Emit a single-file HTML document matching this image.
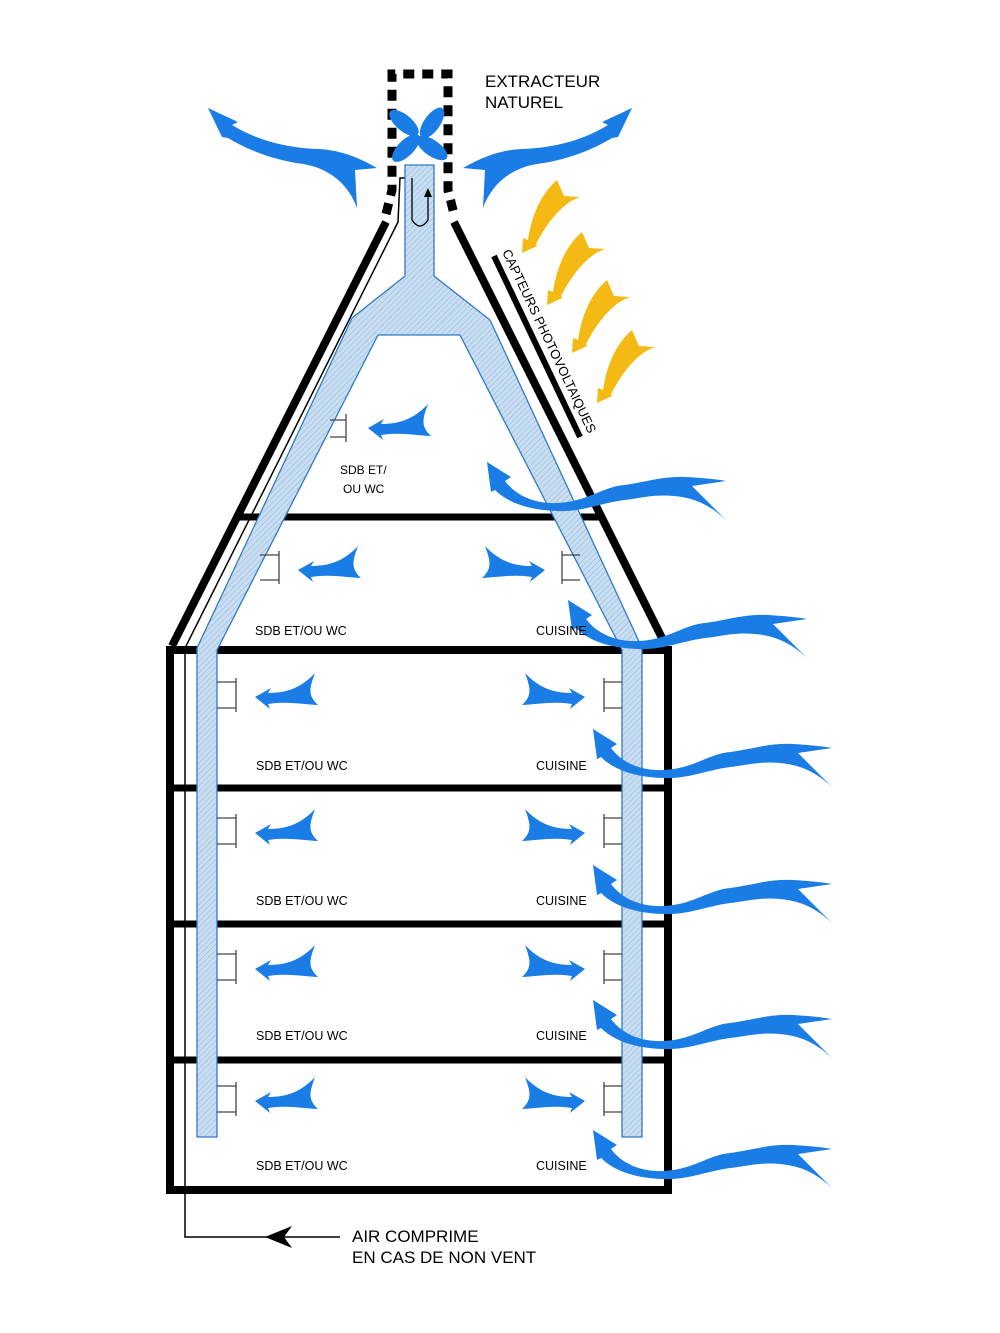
<!DOCTYPE html>
<html><head><meta charset="utf-8"><style>
html,body{margin:0;padding:0;background:#fff;}
svg{display:block;}
text{font-family:"Liberation Sans",Arial,sans-serif;fill:#000;}
</style></head><body>
<svg width="1000" height="1333" viewBox="0 0 1000 1333" xmlns="http://www.w3.org/2000/svg">
<defs>
<pattern id="h" width="4" height="4" patternUnits="userSpaceOnUse" patternTransform="rotate(45)">
<rect width="4" height="4" fill="#c9def2"/>
<line x1="0" y1="0" x2="0" y2="4" stroke="#8fb2d6" stroke-width="1"/>
</pattern>
<path id="wind" d="M0,0 L24,15 L18,19 C30,35 50,42 70,41 C100,40 115,25 137,23 C160,20 175,14 200,15 C215,16 228,17 239,19 L205,24 L239,58 C225,45 210,36 187,34 C165,32 150,37 137,38 C110,42 95,50 70,49 C40,48 20,40 8,28 L4,30 Z" fill="#1a7de6"/>
<path id="top" d="M0,0 L30,14 L24,17 C50,33 80,40 110,41 C135,42 155,52 169,60 L147,62 L149,100 C140,75 120,60 95,56 C65,52 40,42 20,30 L14,29 Z" fill="#1a7de6"/>
<path id="sm" d="M0,0 L16,-9 L13,-4 C30,-4 45,-8 60,-24 C55,-10 52,-2 63,8 C45,7 30,4 13,7 L15,12 Z" fill="#1a7de6"/>
<path id="sun" d="M0,0 L1,-15 L6,-13 C10,-40 20,-60 35,-73 L42,-57 L58,-56 C40,-50 25,-30 14,-9 L15,-7 Z" fill="#f5b914"/>
</defs>

<!-- building -->
<rect x="170" y="650" width="498" height="540" fill="none" stroke="#000" stroke-width="8"/>
<line x1="170" y1="788" x2="668" y2="788" stroke="#000" stroke-width="7"/>
<line x1="170" y1="924" x2="668" y2="924" stroke="#000" stroke-width="7"/>
<line x1="170" y1="1060" x2="668" y2="1060" stroke="#000" stroke-width="7"/>
<line x1="172" y1="646" x2="386" y2="222" stroke="#000" stroke-width="8"/>
<line x1="666" y1="646" x2="454" y2="222" stroke="#000" stroke-width="8"/>
<line x1="234" y1="517" x2="602" y2="517" stroke="#000" stroke-width="7"/>

<!-- thin air line -->
<polyline points="412,220 412,178 400,178 398,222 185,648 185,1237 340,1237" fill="none" stroke="#000" stroke-width="1.5"/>
<path d="M265,1237 L292,1226 L284,1237 L292,1248 Z" fill="#000"/>

<!-- chimney dashed -->
<path d="M386,214 L392,190 L392,74 L448,74 L448,190 L454,214" fill="none" stroke="#000" stroke-width="9" stroke-dasharray="11,8"/>

<!-- ducts -->
<path d="M197,1137 L197,648 L352,318 L405,276 L405,165 L434,165 L434,276 L490,320 L642,648 L642,1137 L622,1137 L622,650 L460,335 L378,335 L217,650 L217,1137 Z" fill="url(#h)" stroke="#2f7ac8" stroke-width="1.3"/>
<path d="M412,178 L412,220 Q420,232 428,220 L428,192" fill="none" stroke="#000" stroke-width="1.3"/>
<path d="M428,188 L424,197 L432,197 Z" fill="#000"/>

<!-- fan -->
<g fill="#1a7de6" transform="translate(418,135)">
<ellipse cx="-14" cy="-12" rx="18" ry="8" transform="rotate(40 -14 -12)"/>
<ellipse cx="14" cy="-12" rx="18" ry="8" transform="rotate(-55 14 -12)"/>
<ellipse cx="-12" cy="13" rx="18" ry="8" transform="rotate(-45 -12 13)"/>
<ellipse cx="14" cy="13" rx="18" ry="8" transform="rotate(35 14 13)"/>
</g>

<!-- vents -->
<g stroke="#444" stroke-width="1.3" fill="none">
<path d="M217,682 H236 M217,708 H236 M236,678 V712"/>
<path d="M217,818 H236 M217,844 H236 M236,814 V848"/>
<path d="M217,954 H236 M217,980 H236 M236,950 V984"/>
<path d="M217,1086 H236 M217,1112 H236 M236,1082 V1116"/>
<path d="M622,682 H604 M622,708 H604 M604,678 V712"/>
<path d="M622,818 H604 M622,844 H604 M604,814 V848"/>
<path d="M622,954 H604 M622,980 H604 M604,950 V984"/>
<path d="M622,1086 H604 M622,1112 H604 M604,1082 V1116"/>
<path d="M260,555 H279 M260,580 H279 M279,551 V584"/>
<path d="M580,555 H562 M580,580 H562 M562,551 V584"/>
<path d="M330,420 H346 M330,437 H346 M346,414 V442"/>
</g>

<!-- small arrows -->
<use href="#sm" transform="translate(255,697)"/>
<use href="#sm" transform="translate(255,833)"/>
<use href="#sm" transform="translate(255,969)"/>
<use href="#sm" transform="translate(255,1101)"/>
<use href="#sm" transform="translate(298,570)"/>
<use href="#sm" transform="translate(368,428)"/>
<use href="#sm" transform="translate(585,697) scale(-1,1)"/>
<use href="#sm" transform="translate(585,833) scale(-1,1)"/>
<use href="#sm" transform="translate(585,969) scale(-1,1)"/>
<use href="#sm" transform="translate(585,1101) scale(-1,1)"/>
<use href="#sm" transform="translate(545,570) scale(-1,1)"/>

<!-- wind arrows -->
<use href="#wind" transform="translate(487,462)"/>
<use href="#wind" transform="translate(568,600)"/>
<use href="#wind" transform="translate(593,729)"/>
<use href="#wind" transform="translate(593,865)"/>
<use href="#wind" transform="translate(593,1000)"/>
<use href="#wind" transform="translate(593,1130)"/>

<!-- top arrows -->
<use href="#top" transform="translate(208,108)"/>
<use href="#top" transform="translate(632,108) scale(-1,1)"/>

<!-- sun arrows -->
<use href="#sun" transform="translate(522,253)"/>
<use href="#sun" transform="translate(547,305)"/>
<use href="#sun" transform="translate(572,353)"/>
<use href="#sun" transform="translate(597,403)"/>

<!-- PV -->
<line x1="494" y1="256" x2="580" y2="437" stroke="#000" stroke-width="6"/>
<text x="502" y="252" font-size="13" transform="rotate(64.6 502 252)">CAPTEURS PHOTOVOLTAIQUES</text>

<!-- labels -->
<text x="485" y="87" font-size="17">EXTRACTEUR</text>
<text x="485" y="108" font-size="17">NATUREL</text>
<text x="340" y="474" font-size="12">SDB ET/</text>
<text x="343" y="493" font-size="12">OU WC</text>
<g font-size="12.5">
<text x="255" y="635">SDB ET/OU WC</text><text x="536" y="635">CUISINE</text>
<text x="256" y="770">SDB ET/OU WC</text><text x="536" y="770">CUISINE</text>
<text x="256" y="905">SDB ET/OU WC</text><text x="536" y="905">CUISINE</text>
<text x="256" y="1040">SDB ET/OU WC</text><text x="536" y="1040">CUISINE</text>
<text x="256" y="1170">SDB ET/OU WC</text><text x="536" y="1170">CUISINE</text>
</g>
<text x="352" y="1242" font-size="17">AIR COMPRIME</text>
<text x="352" y="1263" font-size="17">EN CAS DE NON VENT</text>
</svg>
</body></html>
